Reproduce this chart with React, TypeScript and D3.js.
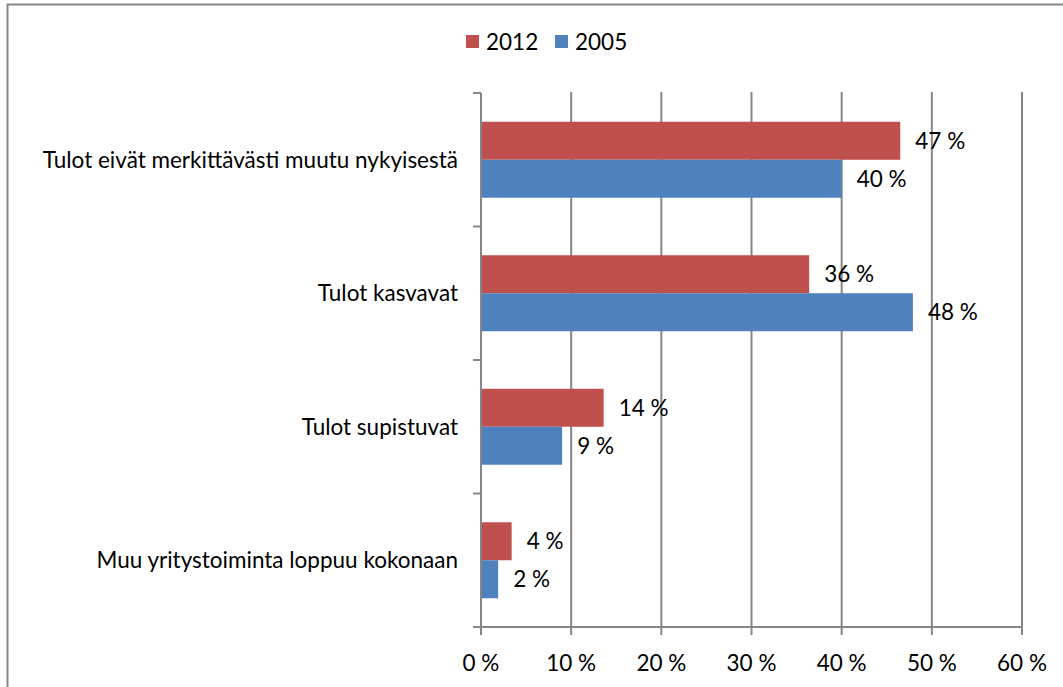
import { useEffect, useRef } from 'react';
import * as d3 from 'd3';

const categories = [
  'Tulot eivät merkittävästi muutu nykyisestä',
  'Tulot kasvavat',
  'Tulot supistuvat',
  'Muu yritystoiminta loppuu kokonaan',
];
const series = ['2012', '2005'];
const values2012 = [46.5, 36.4, 13.6, 3.4];
const values2005 = [40.0, 47.9, 9.0, 1.9];
const labels2012 = ['47 %', '36 %', '14 %', '4 %'];
const labels2005 = ['40 %', '48 %', '9 %', '2 %'];
const xTicks = [0, 10, 20, 30, 40, 50, 60];

const colors = ['#C0504D', '#4F81BD'];
const FONT = 'Lato, "Open Sans", sans-serif';
const FS = '22.5px';

const App = () => {
  const svgRef = useRef<SVGSVGElement>(null);

  useEffect(() => {
    const svg = d3.select(svgRef.current);
    svg.selectAll('*').remove();

    const left = 481;
    const right = 1022;
    const top = 93;
    const bottom = 627;

    // chart area border
    svg.append('rect')
      .attr('x', 7.5).attr('y', 4.5)
      .attr('width', 1100).attr('height', 800)
      .attr('fill', 'none').attr('stroke', '#868686').attr('stroke-width', 2);

    const x = d3.scaleLinear().domain([0, 60]).range([left, right]);
    const y = d3.scaleBand().domain(categories).range([top, bottom]);
    const inner = d3.scaleBand().domain(series).range([0, y.bandwidth()]).paddingInner(0).paddingOuter(0.757);

    // gridlines
    svg.append('g').selectAll('line')
      .data(xTicks.slice(1))
      .enter().append('line')
      .attr('x1', d => x(d)).attr('x2', d => x(d))
      .attr('y1', top - 1).attr('y2', bottom)
      .attr('stroke', '#868686').attr('stroke-width', 2);

    const seriesData = [
      { name: '2012', values: values2012, labels: labels2012, color: colors[0] },
      { name: '2005', values: values2005, labels: labels2005, color: colors[1] },
    ];

    seriesData.forEach(s => {
      const g = svg.append('g');
      g.selectAll('rect')
        .data(categories)
        .enter().append('rect')
        .attr('x', x(0))
        .attr('y', c => (y(c) as number) + (inner(s.name) as number))
        .attr('width', (c, i) => x(s.values[i]) - x(0))
        .attr('height', inner.bandwidth())
        .attr('fill', s.color);
      g.selectAll('text')
        .data(categories)
        .enter().append('text')
        .attr('x', (c, i) => x(s.values[i]) + 15)
        .attr('y', c => (y(c) as number) + (inner(s.name) as number) + inner.bandwidth() / 2)
        .attr('dy', '0.35em')
        .style('font-family', FONT)
        .style('font-size', FS)
        .attr('fill', '#000')
        .text((c, i) => s.labels[i]);
    });

    // y axis
    const yAxis = svg.append('g');
    yAxis.append('line')
      .attr('x1', left).attr('x2', left).attr('y1', top).attr('y2', bottom + 8)
      .attr('stroke', '#868686').attr('stroke-width', 2);
    const yTickPos = categories.map(c => y(c) as number).concat([bottom]);
    yAxis.selectAll('line.tick')
      .data(yTickPos)
      .enter().append('line')
      .attr('class', 'tick')
      .attr('x1', left - 8).attr('x2', left)
      .attr('y1', d => d).attr('y2', d => d)
      .attr('stroke', '#868686').attr('stroke-width', 2);
    yAxis.selectAll('text')
      .data(categories)
      .enter().append('text')
      .attr('x', 458)
      .attr('y', c => (y(c) as number) + y.bandwidth() / 2)
      .attr('dy', '0.35em')
      .attr('text-anchor', 'end')
      .style('font-family', FONT)
      .style('font-size', FS)
      .text(c => c);

    // x axis
    const xAxis = svg.append('g');
    xAxis.append('line')
      .attr('x1', left - 8).attr('x2', right).attr('y1', bottom).attr('y2', bottom)
      .attr('stroke', '#868686').attr('stroke-width', 2);
    xAxis.selectAll('line.tick')
      .data(xTicks)
      .enter().append('line')
      .attr('class', 'tick')
      .attr('x1', d => x(d)).attr('x2', d => x(d))
      .attr('y1', bottom).attr('y2', bottom + 8)
      .attr('stroke', '#868686').attr('stroke-width', 2);
    xAxis.selectAll('text')
      .data(xTicks)
      .enter().append('text')
      .attr('x', d => x(d))
      .attr('y', 663)
      .attr('dy', '0.35em')
      .attr('text-anchor', 'middle')
      .style('font-family', FONT)
      .style('font-size', FS)
      .text(d => `${d} %`);

    // legend
    const legendX = [466, 555];
    const legend = svg.append('g');
    seriesData.forEach((s, i) => {
      legend.append('rect')
        .attr('x', legendX[i]).attr('y', 35)
        .attr('width', 13).attr('height', 13)
        .attr('fill', s.color);
      legend.append('text')
        .attr('x', legendX[i] + 20).attr('y', 42)
        .attr('dy', '0.35em')
        .style('font-family', FONT)
        .style('font-size', FS)
        .text(s.name);
    });
  }, []);

  return (
    <div style={{ position: 'absolute', left: 0, top: 0 }}>
      <svg ref={svgRef} width={1063} height={687} style={{ display: 'block' }}></svg>
    </div>
  );
};

export default App;
